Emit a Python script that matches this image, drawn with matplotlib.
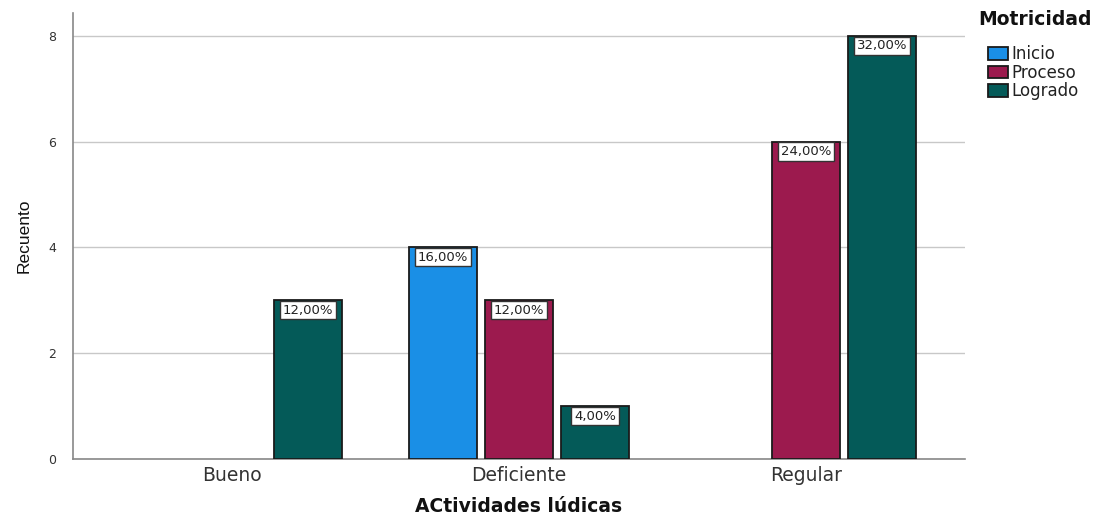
import matplotlib.pyplot as plt
import numpy as np

plt.rcParams['font.family'] = ['DejaVu Sans']

# Counts per activity level and motor-skill stage
categorias = ['Bueno', 'Deficiente', 'Regular']
series = ['Inicio', 'Proceso', 'Logrado']
inicio = [0, 4, 0]
proceso = [0, 3, 6]
logrado = [3, 1, 8]
total = 25
colores = ['#1a8fe6', '#9c1a4e', '#045a58']

fig = plt.figure(figsize=(11.03, 5.17), dpi=100)
ax = fig.add_axes([0.0662, 0.1122, 0.8087, 0.8627])

x = np.arange(len(categorias))
ancho = 0.237
paso = 0.265

for i, (nombre, valores, color) in enumerate(zip(series, [inicio, proceso, logrado], colores)):
    pos = x + (i - 1) * paso
    vals = np.array(valores, dtype=float)
    mask = vals > 0
    ax.bar(pos[mask], vals[mask], width=ancho, color=color, edgecolor='#1a1a1a',
           linewidth=1.3, label=nombre, zorder=3)
    for xp, v in zip(pos[mask], vals[mask]):
        pct = f'{v / total * 100:.2f}%'.replace('.', ',')
        ax.annotate(pct, (xp, v), xytext=(0, -2.5), textcoords='offset points',
                    ha='center', va='top', fontsize=9.5, color='#222222', zorder=5,
                    bbox=dict(boxstyle='square,pad=0.2', fc='white', ec='#333333', lw=1.0))

ax.set_xlim(-0.554, 2.554)
ax.set_ylim(0, 8.43)
ax.set_yticks([0, 2, 4, 6, 8])
ax.set_xticks(x)
ax.set_xticklabels(categorias, fontsize=13.5, color='#333333')
ax.tick_params(axis='y', labelsize=9, colors='#333333', length=0, pad=12)
ax.tick_params(axis='x', length=0, pad=5)
ax.grid(axis='y', color='#c8c8c8', linewidth=1, zorder=0)
for s in ['top', 'right']:
    ax.spines[s].set_visible(False)
for s in ['left', 'bottom']:
    ax.spines[s].set_color('#888888')
    ax.spines[s].set_linewidth(1.2)

ax.set_xlabel('ACtividades lúdicas', fontsize=13.5, fontweight='bold', labelpad=9, color='#111111')
ax.set_ylabel('Recuento', fontsize=12.5, family=['Liberation Sans', 'DejaVu Sans'],
              labelpad=12, color='#111111')

# legend title drawn separately so the entries sit indented under it
fig.text(0.8867, 0.963, 'Motricidad', fontsize=13.5, fontweight='bold',
         ha='left', va='center', color='#111111')
leg = fig.legend(loc='upper left', bbox_to_anchor=(0.8955, 0.912), frameon=False,
                 fontsize=12, handlelength=1.2, handleheight=0.8,
                 handletextpad=0.2, labelspacing=0.02, borderpad=0, borderaxespad=0)
for t in leg.get_texts():
    t.set_color('#222222')

fig.savefig('out.png', dpi=100)
